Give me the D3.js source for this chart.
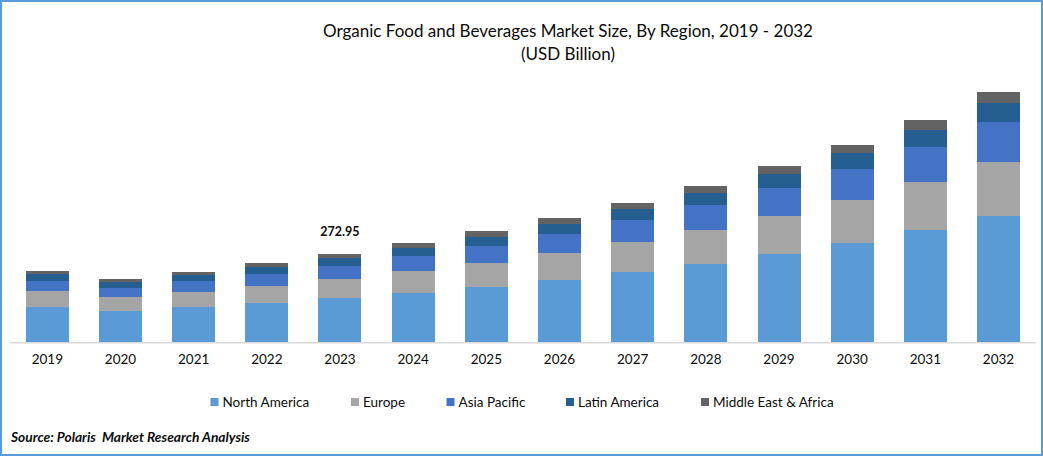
<!DOCTYPE html>
<html><head><meta charset="utf-8">
<script src="https://cdn.jsdelivr.net/npm/d3@7/dist/d3.min.js"></script>
<style>html,body{margin:0;padding:0;background:#fff}svg{display:block}text{font-family:Lato,"Open Sans",sans-serif;fill:#0b0b0b;white-space:pre}</style>
</head><body><svg id="c" width="1043" height="456"></svg>
<script>
const years = ["2019","2020","2021","2022","2023","2024","2025","2026","2027","2028","2029","2030","2031","2032"];
const seriesNames = ["North America","Europe","Asia Pacific","Latin America","Middle East & Africa"];
const seriesColors = ["#5B9BD5","#A5A5A5","#4472C4","#255E91","#636363"];
const northAmerica = [108.5,96.1,108.5,120.9,136.4,151.9,170.5,192.2,217,241.8,272.8,306.9,347.2,390.6];
const europe = [49.6,43.4,46.5,52.7,58.9,68.2,74.4,83.7,93,105.4,117.8,133.3,148.8,167.4];
const asiaPacific = [31,27.9,34.1,37.2,40.3,46.5,52.7,58.9,68.2,77.5,86.8,96.1,108.5,124];
const latinAmerica = [21.7,18.6,18.6,21.7,24.8,24.8,27.9,31,34.1,37.2,43.4,49.6,52.7,58.9];
const middleEastAfrica = [9.3,9.3,9.3,12.4,12.55,15.5,18.6,18.6,18.6,21.7,24.8,24.8,31,34.1];
const annotationYear = "2023";
const annotationLabel = "272.95";
const titleLines = ["Organic Food and Beverages Market Size, By Region, 2019 - 2032","(USD Billion)"];
const sourceText = "Source: Polaris  Market Research Analysis";

const svg = d3.select("#c");
svg.append("rect").attr("x",1).attr("y",1).attr("width",1041).attr("height",454)
  .attr("fill","#fff").attr("stroke","#5B9BD5").attr("stroke-width",2);

const x = d3.scaleBand().domain(years).range([11.166,1034.65]).paddingInner(0.4123).paddingOuter(0.2);
const y = d3.scaleLinear().domain([0,775]).range([342,92]);

const rows = years.map((yr,i)=>({year:yr,"North America":northAmerica[i],"Europe":europe[i],"Asia Pacific":asiaPacific[i],"Latin America":latinAmerica[i],"Middle East & Africa":middleEastAfrica[i]}));
const stacked = d3.stack().keys(seriesNames)(rows);
const color = d3.scaleOrdinal(seriesNames,seriesColors);

svg.append("g").selectAll("g").data(stacked).join("g").attr("fill",d=>color(d.key))
  .selectAll("rect").data(d=>d).join("rect")
  .attr("x",d=>x(d.data.year)).attr("width",x.bandwidth())
  .attr("y",d=>y(d[1])).attr("height",d=>y(d[0])-y(d[1]))
  .attr("shape-rendering","crispEdges");

const axis = svg.append("g").attr("transform","translate(0,342.5)")
  .call(d3.axisBottom(x).tickSize(0).tickPadding(12));
axis.select(".domain").remove();
axis.selectAll("text").attr("font-size",13.5).style("font-family","Lato").attr("fill","#0b0b0b");
svg.append("line").attr("x1",10).attr("x2",1036).attr("y1",342.75).attr("y2",342.75)
  .attr("stroke","#d9d9d9").attr("stroke-width",1.5);

const top2023 = d3.sum([northAmerica,europe,asiaPacific,latinAmerica,middleEastAfrica],s=>s[years.indexOf(annotationYear)]);
svg.append("text").attr("x",x(annotationYear)+x.bandwidth()/2).attr("y",y(top2023)-18)
  .attr("text-anchor","middle").attr("font-size",12.5).attr("font-weight",700).text(annotationLabel);

svg.append("g").selectAll("text").data(titleLines).join("text")
  .attr("x",568).attr("y",(d,i)=>37+i*23).attr("text-anchor","middle").attr("font-size",17).text(d=>d);

const legendX = [210.5,351,446.5,566,701];
const lg = svg.append("g").selectAll("g").data(seriesNames).join("g")
  .attr("transform",(d,i)=>`translate(${legendX[i]},398)`);
lg.append("rect").attr("width",8).attr("height",8).attr("fill",d=>color(d));
lg.append("text").attr("x",12).attr("y",9).attr("font-size",13.5).text(d=>d);

svg.append("text").attr("x",11).attr("y",442).attr("font-size",13.75).attr("font-weight",700).attr("font-style","italic").text(sourceText);
</script></body></html>
